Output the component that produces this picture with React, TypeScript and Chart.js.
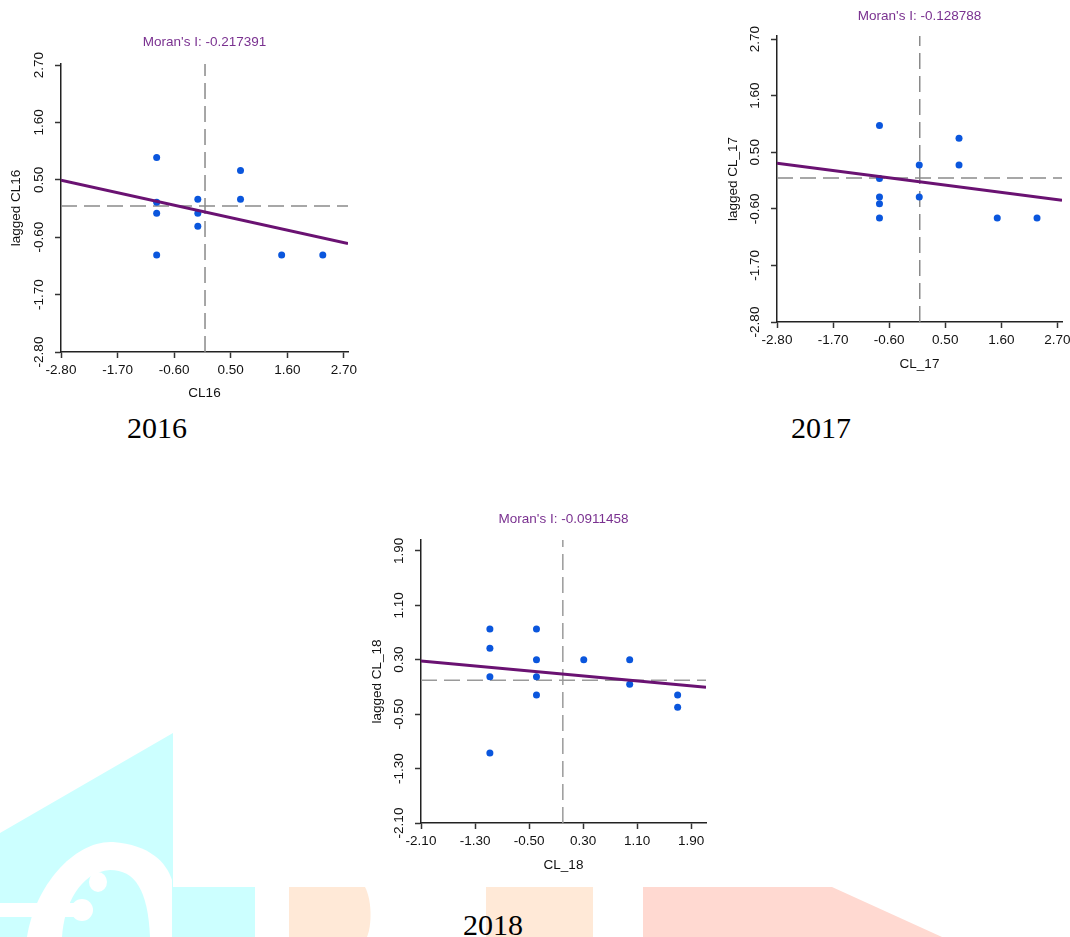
import React, { useEffect, useRef } from 'react';
import { Chart, registerables } from 'chart.js';

Chart.register(...registerables);

const FONT = '"Liberation Sans", Arial, sans-serif';
const FS = 13.5;

// ---------- DATA ----------
// 2016
const X_2016 = [-0.94, -0.94, -0.94, -0.94, -0.14, -0.14, -0.14, 0.69, 0.69, 1.49, 2.29];
const Y_2016 = [0.93, 0.07, -0.14, -0.94, 0.13, -0.14, -0.39, 0.68, 0.13, -0.94, -0.94];
const MORAN_2016 = -0.217391;
const INTERCEPT_2016 = -0.115;
const TICKS_2016 = [-2.8, -1.7, -0.6, 0.5, 1.6, 2.7];
const TICK_LABELS_2016 = ['-2.80', '-1.70', '-0.60', '0.50', '1.60', '2.70'];

// 2017
const X_2017 = [-0.79, -0.79, -0.79, -0.79, -0.79, -0.01, -0.01, 0.77, 0.77, 1.52, 2.3];
const Y_2017 = [1.02, -0.01, -0.37, -0.5, -0.78, 0.25, -0.37, 0.77, 0.25, -0.78, -0.78];
const MORAN_2017 = -0.128788;
const INTERCEPT_2017 = -0.075;
const TICKS_2017 = [-2.8, -1.7, -0.6, 0.5, 1.6, 2.7];
const TICK_LABELS_2017 = ['-2.80', '-1.70', '-0.60', '0.50', '1.60', '2.70'];

// 2018
const X_2018 = [-1.08, -1.08, -1.08, -1.08, -0.39, -0.39, -0.39, -0.39, 0.31, 0.99, 0.99, 1.7, 1.7];
const Y_2018 = [0.75, 0.47, 0.05, -1.07, 0.75, 0.3, 0.05, -0.22, 0.3, 0.3, -0.06, -0.22, -0.4];
const MORAN_2018 = -0.0911458;
const INTERCEPT_2018 = 0.09;
const TICKS_2018 = [-2.1, -1.3, -0.5, 0.3, 1.1, 1.9];
const TICK_LABELS_2018 = ['-2.10', '-1.30', '-0.50', '0.30', '1.10', '1.90'];

const MEAN_X = 0;
const MEAN_Y = 0;

// ---------- PANEL SPECS ----------
type Spec = {
  xs: number[]; ys: number[]; moran: number; intercept: number;
  ticks: number[]; tickLabels: string[];
  xMin: number; xMax: number; yMin: number; yMax: number;
  title: string; xTitle: string; yTitle: string;
  left: number; top: number; width: number; height: number;
  padRight: number; yWidth: number; xHeight: number;
  titlePadTop: number; titlePadBottom: number;
  xTitlePadBottom: number; yTitlePadTop: number; xTickPad: number;
  dashColor: string;
};

const SPECS: Spec[] = [
  {
    xs: X_2016, ys: Y_2016, moran: MORAN_2016, intercept: INTERCEPT_2016,
    ticks: TICKS_2016, tickLabels: TICK_LABELS_2016,
    xMin: -2.8, xMax: 2.78, yMin: -2.8, yMax: 2.72,
    title: "Moran's I: -0.217391", xTitle: 'CL16', yTitle: 'lagged CL16',
    left: 0, top: 20, width: 370, height: 386,
    padRight: 22, yWidth: 61, xHeight: 54,
    titlePadTop: 14.6, titlePadBottom: 13.2,
    xTitlePadBottom: 4.6, yTitlePadTop: 8.6, xTickPad: 3.9,
    dashColor: '#8a8a8a',
  },
  {
    xs: X_2017, ys: Y_2017, moran: MORAN_2017, intercept: INTERCEPT_2017,
    ticks: TICKS_2017, tickLabels: TICK_LABELS_2017,
    xMin: -2.8, xMax: 2.79, yMin: -2.8, yMax: 2.76,
    title: "Moran's I: -0.128788", xTitle: 'CL_17', yTitle: 'lagged CL_17',
    left: 700, top: 0, width: 370, height: 376,
    padRight: 8, yWidth: 77, xHeight: 54,
    titlePadTop: 7.9, titlePadBottom: 11.9,
    xTitlePadBottom: 3.6, yTitlePadTop: 25.2, xTickPad: 4.6,
    dashColor: '#8a8a8a',
  },
  {
    xs: X_2018, ys: Y_2018, moran: MORAN_2018, intercept: INTERCEPT_2018,
    ticks: TICKS_2018, tickLabels: TICK_LABELS_2018,
    xMin: -2.1, xMax: 2.12, yMin: -2.1, yMax: 2.06,
    title: "Moran's I: -0.0911458", xTitle: 'CL_18', yTitle: 'lagged CL_18',
    left: 360, top: 500, width: 370, height: 378,
    padRight: 24, yWidth: 61, xHeight: 55,
    titlePadTop: 10.9, titlePadBottom: 12.9,
    xTitlePadBottom: 4.2, yTitlePadTop: 9.2, xTickPad: 4.6,
    dashColor: '#9a9a9a',
  },
];

const CAPTIONS = [
  { text: '2016', x: 157, y: 438 },
  { text: '2017', x: 821, y: 438 },
  { text: '2018', x: 493, y: 935 },
];

// draws rotated y tick labels using the library's y scale
const yTickLabelPlugin = {
  id: 'yTickLabels',
  afterDraw(chart: any, _args: any, opts: any) {
    const s = chart.scales.y;
    const ctx = chart.ctx;
    ctx.save();
    ctx.font = `${FS}px ${FONT}`;
    ctx.fillStyle = '#111';
    ctx.textAlign = 'center';
    ctx.textBaseline = 'middle';
    const x = chart.chartArea.left - 21.5;
    s.ticks.forEach((t: any, i: number) => {
      const y = s.getPixelForValue(t.value);
      ctx.save();
      ctx.translate(x, y);
      ctx.rotate(-Math.PI / 2);
      ctx.fillText(opts.labels[i], 0, 0);
      ctx.restore();
    });
    ctx.restore();
  },
};

function MoranPanel({ spec }: { spec: Spec }) {
  const ref = useRef<HTMLCanvasElement>(null);
  useEffect(() => {
    const s = spec;
    const lineXs = [s.xMin, s.xMax];
    const font = { family: FONT, size: FS, weight: 'normal' as const };
    const chart = new Chart(ref.current as HTMLCanvasElement, {
      type: 'scatter',
      data: {
        datasets: [
          {
            data: lineXs.map((x) => ({ x, y: s.intercept + s.moran * x })),
            showLine: true,
            borderColor: '#6a1272',
            borderWidth: 3,
            pointRadius: 0,
            backgroundColor: '#6a1272',
          },
          {
            data: s.xs.map((x, i) => ({ x, y: s.ys[i] })),
            backgroundColor: '#0a56dd',
            borderWidth: 0,
            pointRadius: 3.5,
          },
          {
            data: [{ x: MEAN_X, y: s.yMin }, { x: MEAN_X, y: s.yMax }],
            showLine: true,
            borderColor: s.dashColor,
            borderWidth: 1.5,
            borderDash: [16, 7],
            pointRadius: 0,
          },
          {
            data: [{ x: s.xMin, y: MEAN_Y }, { x: s.xMax, y: MEAN_Y }],
            showLine: true,
            borderColor: s.dashColor,
            borderWidth: 1.5,
            borderDash: [16, 7],
            pointRadius: 0,
          },
        ],
      },
      options: {
        responsive: false,
        animation: false,
        events: [],
        devicePixelRatio: 1,
        layout: { padding: { left: 0, right: s.padRight, top: 0, bottom: 0 } },
        plugins: {
          legend: { display: false },
          tooltip: { enabled: false },
          title: {
            display: true,
            text: s.title,
            color: '#7a3190',
            font,
            fullSize: false,
            padding: { top: s.titlePadTop, bottom: s.titlePadBottom },
          },
          yTickLabels: { labels: s.tickLabels },
        } as any,
        scales: {
          x: {
            type: 'linear',
            min: s.xMin,
            max: s.xMax,
            afterBuildTicks: (sc: any) => { sc.ticks = s.ticks.map((v) => ({ value: v })); },
            afterFit: (sc: any) => { sc.height = s.xHeight; sc.paddingLeft = 0; sc.paddingRight = 0; },
            grid: { drawOnChartArea: false, drawTicks: true, tickLength: 6, color: '#333', tickWidth: 1.5 },
            border: { display: true, color: '#222', width: 1.5 },
            ticks: {
              font, color: '#111', padding: s.xTickPad, maxRotation: 0, minRotation: 0, autoSkip: false,
              callback: (_v: any, i: number) => s.tickLabels[i],
            },
            title: { display: true, text: s.xTitle, color: '#111', font, padding: { top: 0, bottom: s.xTitlePadBottom } },
          },
          y: {
            type: 'linear',
            min: s.yMin,
            max: s.yMax,
            afterBuildTicks: (sc: any) => { sc.ticks = s.ticks.map((v) => ({ value: v })); },
            afterFit: (sc: any) => { sc.width = s.yWidth; sc.paddingTop = 0; sc.paddingBottom = 0; },
            grid: { drawOnChartArea: false, drawTicks: true, tickLength: 6, color: '#333', tickWidth: 1.5 },
            border: { display: true, color: '#222', width: 1.5 },
            ticks: { display: false },
            title: { display: true, text: s.yTitle, color: '#111', font, padding: { top: s.yTitlePadTop, bottom: 0 } },
          },
        },
      },
      plugins: [yTickLabelPlugin],
    } as any);
    return () => chart.destroy();
  }, [spec]);
  return (
    <canvas
      ref={ref}
      width={spec.width}
      height={spec.height}
      style={{ position: 'absolute', left: spec.left, top: spec.top, width: spec.width, height: spec.height, display: 'block' }}
    />
  );
}

function Watermark() {
  return (
    <svg width={1070} height={937} style={{ position: 'absolute', left: 0, top: 0 }}>
      {/* cyan logo block */}
      <polygon points="0,833 173,733 173,887 255,887 255,937 0,937" fill="#ccffff" />
      <path d="M 27 937 C 35 885, 75 840, 113 842 C 150 845, 166 862, 172 880 L 172 937 Z" fill="#ffffff" />
      <path d="M 62 937 C 64 905, 80 872, 110 870 C 135 870, 148 890, 150 937 Z" fill="#ccffff" />
      <ellipse cx={98} cy={882} rx={9} ry={10} fill="#ffffff" />
      <rect x={0} y={903} width={82} height={14} fill="#ffffff" />
      <circle cx={82} cy={910} r={11} fill="#ffffff" />
      {/* orange blocks */}
      <path d="M 289 887 L 365 887 C 372 900, 372 925, 367 937 L 289 937 Z" fill="#ffe9d7" />
      <rect x={486} y={887} width={107} height={50} fill="#ffe9d7" />
      {/* salmon block */}
      <polygon points="643,887 832,887 942,937 643,937" fill="#ffd9d1" />
      {CAPTIONS.map((c) => (
        <text key={c.text} x={c.x} y={c.y} textAnchor="middle" fontFamily='"Liberation Serif", "Times New Roman", serif' fontSize={30} fill="#000">
          {c.text}
        </text>
      ))}
    </svg>
  );
}

export default function App() {
  return (
    <div style={{ position: 'absolute', left: 0, top: 0, width: 1070, height: 937, background: '#fff', overflow: 'hidden' }}>
      <Watermark />
      {SPECS.map((s, i) => (
        <MoranPanel key={i} spec={s} />
      ))}
    </div>
  );
}
